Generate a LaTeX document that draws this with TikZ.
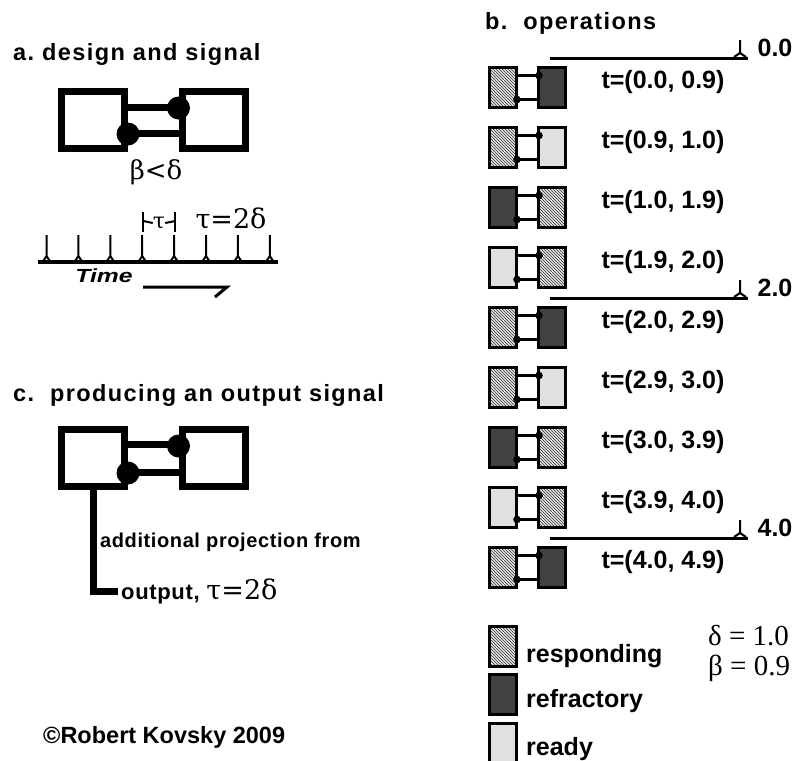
\documentclass[tikz,border=0pt]{standalone}
\usepackage[no-math]{fontspec}
\setmainfont{Liberation Sans}
\newfontfamily\headfont{Liberation Sans}[LetterSpace=6]
\newfontfamily\midfont{Liberation Sans}[LetterSpace=3]
\newfontfamily\grkfont{DejaVu Serif}
\newfontfamily\valfont{Liberation Serif}
\usetikzlibrary{patterns,positioning}
\definecolor{refrgray}{gray}{0.26}
\definecolor{readygray}{gray}{0.88}

\begin{document}
\begin{tikzpicture}[x=1pt,y=-1pt,node distance=49pt]
	\tikzstyle{bigcell} = [rectangle, draw=black, line width=7pt, minimum width=63pt, minimum height=57pt, inner sep=0pt]
	\tikzstyle{bigbar} = [line width=7pt]
	\tikzstyle{cell} = [rectangle, draw=black, line width=3pt, minimum width=27pt, minimum height=40pt, inner sep=0pt]
	\tikzstyle{cellbar} = [line width=3pt]
	\tikzstyle{resp} = [cell, preaction={fill=gray!20}, pattern=north west lines, pattern color=black!80]
	\tikzstyle{refr} = [cell, fill=refrgray]
	\tikzstyle{ready} = [cell, fill=readygray]
	\tikzstyle{headtext} = [anchor=west, inner sep=0pt, font=\headfont\fontsize{23.5}{25}\selectfont\bfseries]
	\tikzstyle{tlabel} = [inner sep=0pt, font=\fontsize{25}{27}\selectfont\bfseries]
	\tikzstyle{grk} = [inner sep=0pt, font=\grkfont\fontsize{26}{28}\selectfont]
	\tikzstyle{valtext} = [anchor=base west, inner sep=0pt, font=\valfont\fontsize{29}{31}\selectfont]
	\tikzstyle{tick} = [line width=2pt]

	\useasboundingbox (0,0) rectangle (812,761);

	% a. design and signal
	\node (atitle) [headtext] at (13,54) {a.\ design and signal};
	\node (aleft) [bigcell] at (93,120) {};
	\node (aright) [bigcell, node distance=120.5pt, right of=aleft] {};
	\draw [bigbar] ([yshift=13pt]aleft.east) -- ([yshift=13pt]aright.west);
	\draw [bigbar] ([yshift=-13pt]aleft.east) -- ([yshift=-13pt]aright.west);
	\fill ([yshift=12pt]aright.west) circle (11.5pt);
	\fill ([yshift=-14pt]aleft.east) circle (11.5pt);
	\node (ineq) [grk] at (156,172) {β<δ};

	% time line
	\draw [line width=3.5pt] (38,262) -- (278,262);
	\foreach \i [evaluate=\i as \x using 46.5+31.9*\i] in {0,...,7}
		\draw [tick] (\x,235) -- (\x,257) (\x-4,262) -- (\x,256) -- (\x+4,262);
	\node (tau) [grk, font=\grkfont\fontsize{22}{24}\selectfont] at (159,223) {τ};
	\draw [tick] (143.4,212) -- (143.4,232) (175.3,212) -- (175.3,232);
	\draw [tick] (143.4,221) -- (tau.west) (tau.east) -- (175.3,221);
	\node (period) [grk, font=\grkfont\fontsize{27}{29}\selectfont] at (231,219) {τ=2δ};
	\node (time) [inner sep=0pt, font=\fontsize{19}{21}\selectfont\bfseries\itshape] at (104,276) {\scalebox{1.3}[1]{Time}};
	\coordinate (tstart) at (143,287);
	\coordinate (tend) at (227,287);
	\draw [line width=3pt] (tstart) -- (tend) -- (215,297);

	% c. producing an output signal
	\node (ctitle) [headtext] at (13,395) {c.\ \ producing an output signal};
	\node (cleft) [bigcell] at (93,458) {};
	\node (cright) [bigcell, node distance=120.5pt, right of=cleft] {};
	\draw [bigbar] ([yshift=14pt]cleft.east) -- ([yshift=14pt]cright.west);
	\draw [bigbar] ([yshift=-14pt]cleft.east) -- ([yshift=-14pt]cright.west);
	\fill ([yshift=12pt]cright.west) circle (11.5pt);
	\fill ([yshift=-15pt]cleft.east) circle (11.5pt);
	\node (addproj) [anchor=west, inner sep=0pt, font=\midfont\fontsize{20}{22}\selectfont\bfseries] at (100,542) {additional projection from};
	\node (outtxt) [anchor=west, inner sep=0pt, font=\midfont\fontsize{22}{24}\selectfont\bfseries] at (121,591) {output, {\grkfont\mdseries\fontsize{27}{29}\selectfont τ=2δ}};
	\draw [bigbar] (cleft.south) |- ([xshift=-3pt]outtxt.west);

	\node (copy) [anchor=west, inner sep=0pt, font=\fontsize{23.5}{25}\selectfont\bfseries] at (43,737) {©Robert Kovsky 2009};

	% b. operations
	\node (btitle) [headtext] at (485,23) {b.\ \ operations};
	\foreach \y/\t in {58/0.0, 298/2.0, 538/4.0} {
		\draw [cellbar] (550,\y) -- (748,\y);
		\draw [tick] (740,\y-18) -- (740,\y-5) (734,\y-1) -- (740,\y-5) -- (746,\y-1);
		\node [tlabel] at (775,\y-10) {\t};
	}
	\foreach \i/\l/\r/\t in {0/resp/refr/{t=(0.0, 0.9)}, 1/resp/ready/{t=(0.9, 1.0)},
			2/refr/resp/{t=(1.0, 1.9)}, 3/ready/resp/{t=(1.9, 2.0)},
			4/resp/refr/{t=(2.0, 2.9)}, 5/resp/ready/{t=(2.9, 3.0)},
			6/refr/resp/{t=(3.0, 3.9)}, 7/ready/resp/{t=(3.9, 4.0)},
			8/resp/refr/{t=(4.0, 4.9)}} {
		\node (l\i) [\l] at (503,87.5+60*\i) {};
		\node (r\i) [\r, right of=l\i] {};
		\draw [cellbar] ([yshift=12pt]l\i.east) -- ([yshift=12pt]r\i.west);
		\draw [cellbar] ([yshift=-12pt]l\i.east) -- ([yshift=-12pt]r\i.west);
		\fill ([xshift=2pt,yshift=12pt]r\i.west) circle (3.8pt);
		\fill ([xshift=-1pt,yshift=-12pt]l\i.east) circle (3.8pt);
		\node (t\i) [tlabel] at (663,82.5+60*\i) {\t};
	}

	% legend
	\node (kresp) [resp] at (503,646.5) {};
	\node (krefr) [refr] at (503,694.5) {};
	\node (kready) [ready] at (503,743.5) {};
	\node [tlabel, anchor=base west] at (526,662) {responding};
	\node [tlabel, anchor=base west] at (526,707) {refractory};
	\node [tlabel, anchor=base west] at (526,755) {ready};
	\node (delta) [valtext] at (708,645) {δ = 1.0};
	\node (beta) [valtext] at (708,675) {β = 0.9};
\end{tikzpicture}
\end{document}
